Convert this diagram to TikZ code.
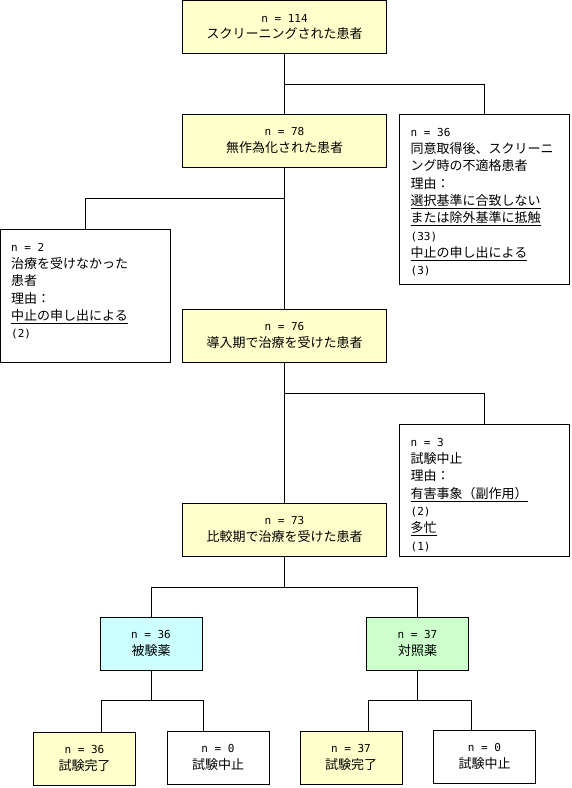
\documentclass[tikz,border=0pt]{standalone}
\usepackage{fontspec}
\setmainfont{Noto Sans CJK JP}
\newfontfamily\monof{DejaVu Sans Mono}
\newcommand\nlbl[1]{{\monof\fontsize{11}{17}\selectfont n = #1}}
\newcommand\plbl[1]{{\monof\fontsize{11}{17}\selectfont (#1)}}
\definecolor{yelfill}{HTML}{FFFFCC}
\definecolor{cyanfill}{HTML}{CCFFFF}
\definecolor{greenfill}{HTML}{CCFFCC}
\tikzset{
  box/.style={draw, line width=1pt, rectangle, inner sep=0pt, outer sep=0pt, anchor=north west},
  cbox/.style={box, align=center, font=\fontsize{13}{16.8}\selectfont},
  ybox/.style={cbox, fill=yelfill},
  txt/.style={anchor=north west, inner sep=0pt, align=left, font=\fontsize{13}{17.3}\selectfont},
  conn/.style={line width=1pt},
}
\begin{document}
\begin{tikzpicture}[x=1pt, y=-1pt]
\useasboundingbox[fill=white] (0,0) rectangle (571,788);
% main column
\node[ybox, minimum width=204pt, minimum height=53pt] (s1) at (182.5,0.5) {\nlbl{114}\\スクリーニングされた患者};
\node[ybox, minimum width=204pt, minimum height=53pt] (s2) at (182.5,114) {\nlbl{78}\\無作為化された患者};
\node[ybox, minimum width=204pt, minimum height=53pt] (s3) at (182.5,309) {\nlbl{76}\\導入期で治療を受けた患者};
\node[ybox, minimum width=204pt, minimum height=53pt] (s4) at (182.5,503) {\nlbl{73}\\比較期で治療を受けた患者};
% side boxes
\node[box, minimum width=170pt, minimum height=170pt] (r1) at (399,114) {};
\node[txt] (r1t) at (410.5,124) {\strut\nlbl{36}\\同意取得後、スクリーニ\\ング時の不適格患者\\理由：\\\underline{選択基準に合致しない}\\\underline{または除外基準に抵触}\\\plbl{33}\\\underline{中止の申し出による}\\\plbl{3}};
\node[box, minimum width=170pt, minimum height=133pt] (l1) at (0.5,229) {};
\node[txt] (l1t) at (11,239) {\strut\nlbl{2}\\治療を受けなかった\\患者\\理由：\\\underline{中止の申し出による}\\\plbl{2}};
\node[box, minimum width=170pt, minimum height=132pt] (r2) at (399,424) {};
\node[txt] (r2t) at (410.5,434) {\strut\nlbl{3}\\試験中止\\理由：\\\underline{有害事象（副作用）}\\\plbl{2}\\\underline{多忙}\\\plbl{1}};
% arms
\node[cbox, fill=cyanfill, minimum width=102pt, minimum height=53pt] (a) at (100,617) {\nlbl{36}\\被験薬};
\node[cbox, fill=greenfill, minimum width=102pt, minimum height=53pt] (b) at (366.5,617) {\nlbl{37}\\対照薬};
\node[ybox, minimum width=102pt, minimum height=53pt] (a1) at (33.5,732) {\nlbl{36}\\試験完了};
\node[cbox, fill=white, minimum width=102pt, minimum height=53pt] (a2) at (167,731) {\nlbl{0}\\試験中止};
\node[ybox, minimum width=102pt, minimum height=53pt] (b1) at (300,731) {\nlbl{37}\\試験完了};
\node[cbox, fill=white, minimum width=102pt, minimum height=53pt] (b2) at (433.5,730) {\nlbl{0}\\試験中止};
% junctions
\coordinate (j1) at (284.5,84.5);
\coordinate (j2) at (284.5,198);
\coordinate (j3) at (284.5,393);
\coordinate (j4) at (284.5,587);
\coordinate (j5) at (151,700);
\coordinate (j6) at (417.5,700);
\coordinate (k1) at (101.5,700);
\coordinate (k2) at (203.5,700);
\coordinate (k3) at (368.5,700);
\coordinate (k4) at (471.5,700);
% connectors
\draw[conn] (s1.south) -- (s2.north);
\draw[conn] (j1) -| (r1.north);
\draw[conn] (s2.south) -- (s3.north);
\draw[conn] (j2) -| (l1.north);
\draw[conn] (s3.south) -- (s4.north);
\draw[conn] (j3) -| (r2.north);
\draw[conn] (s4.south) -- (j4);
\draw[conn] (j4) -| (a.north);
\draw[conn] (j4) -| (b.north);
\draw[conn] (a.south) -- (j5);
\draw[conn] (k1) -- (k2);
\draw[conn] (k1) -- (k1 |- a1.north);
\draw[conn] (k2) -- (k2 |- a2.north);
\draw[conn] (b.south) -- (j6);
\draw[conn] (k3) -- (k4);
\draw[conn] (k3) -- (k3 |- b1.north);
\draw[conn] (k4) -- (k4 |- b2.north);
\end{tikzpicture}
\end{document}
